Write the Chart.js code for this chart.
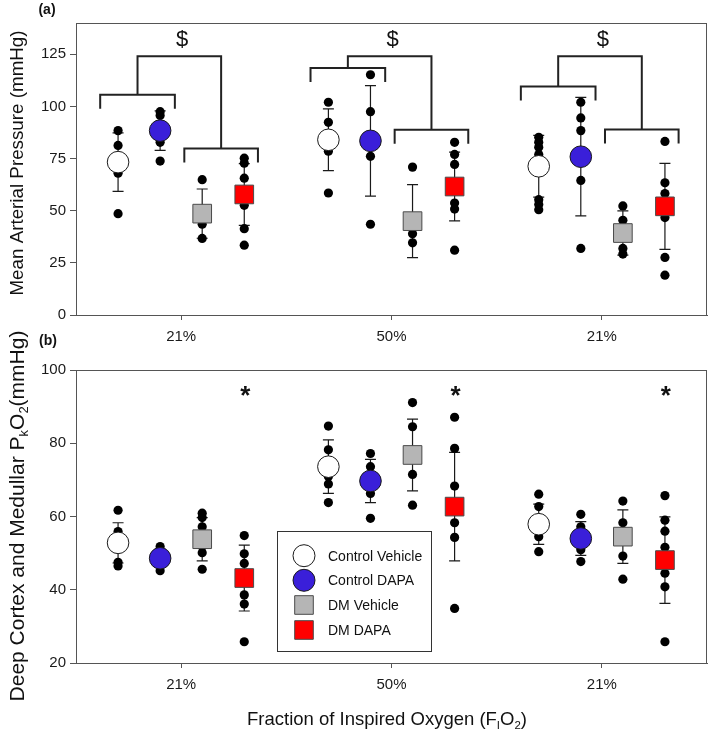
<!DOCTYPE html>
<html><head><meta charset="utf-8">
<script src="https://cdn.jsdelivr.net/npm/chart.js@4/dist/chart.umd.min.js"></script>
<style>
html,body{margin:0;padding:0;background:#fff;width:709px;height:730px;overflow:hidden;}
#wa{position:absolute;left:0;top:0;width:709px;height:345px;}
#wb{position:absolute;left:0;top:330px;width:709px;height:400px;}
</style></head><body>
<div id="wa"><canvas id="ca"></canvas></div>
<div id="wb"><canvas id="cb"></canvas></div>
<script>
// ---------- data ----------
const groups = ['21%', '50%', '21%'];
const seriesNames = ['Control Vehicle', 'Control DAPA', 'DM Vehicle', 'DM DAPA'];

// Panel (a) Mean Arterial Pressure (mmHg): means, error (SD), individual points per group
const mapMeanCV = [73.3, 84.0, 71.3];
const mapMeanCD = [88.4, 83.5, 75.9];
const mapMeanDV = [48.6, 45.0, 39.3];
const mapMeanDD = [57.8, 61.6, 52.1];
const mapErrCV = [14.0, 14.8, 14.8];
const mapErrCD = [9.5, 26.5, 28.4];
const mapErrDV = [11.8, 17.5, 10.6];
const mapErrDD = [14.8, 16.5, 20.6];
const mapDotsCV = [[88.4, 81.3, 74, 68, 48.6], [102, 92.4, 85, 78.5, 58.5], [85.2, 82.8, 80.4, 77, 55.3, 53, 50.5]];
const mapDotsCD = [[97.5, 95.6, 88, 82.8, 73.8], [115.2, 97.5, 84, 76.1, 43.5], [102, 94.5, 88.4, 64.5, 31.9]];
const mapDotsDV = [[64.9, 50, 43.5, 36.7], [70.9, 42, 39, 34.6], [52.3, 45.4, 40, 31.9, 29.2]];
const mapDotsDD = [[75.2, 72.8, 65.6, 52.6, 41.4, 33.5], [82.8, 77, 72.2, 53.7, 50.8, 31.1], [83.2, 63.4, 58.2, 46.7, 27.6, 19.1]];
const mapTicks = [0, 25, 50, 75, 100, 125];
// significance brackets ($): levels in mmHg per group
const bracketLeftLevel = [105.6, 118.4, 109.5];
const bracketRightLevel = [79.8, 88.8, 88.9];
const bracketTopLevel = [124.1, 124.0, 124.0];

// Panel (b) Deep Cortex and Medullar PkO2 (mmHg)
const pko2MeanCV = [52.8, 73.6, 57.9];
const pko2MeanCD = [48.6, 69.7, 54.0];
const pko2MeanDV = [53.8, 76.8, 54.5];
const pko2MeanDD = [43.2, 62.7, 48.1];
const pko2ErrCV = [5.5, 7.3, 5.5];
const pko2ErrCD = [2.5, 5.9, 4.6];
const pko2ErrDV = [5.9, 9.8, 7.3];
const pko2ErrDD = [9.0, 14.8, 11.8];
const pko2DotsCV = [[61.7, 55.9, 47.5, 46.5], [84.7, 78.2, 70.9, 68.9, 63.8], [66.1, 62.7, 54.5, 50.4]];
const pko2DotsCD = [[51.8, 48.6, 45.2], [77.2, 73.6, 66.3, 59.5], [60.6, 57.2, 50.9, 47.7]];
const pko2DotsDV = [[60.9, 59.7, 57.2, 51.9, 50.1, 45.6], [91.1, 84.5, 71.5, 63.1], [64.2, 58.3, 49.2, 42.9]];
const pko2DotsDD = [[54.8, 49.8, 47.2, 38.6, 36.1, 25.8], [87.1, 78.6, 68.3, 58.3, 54.3, 34.9], [65.7, 59, 56, 51.6, 44.5, 40.8, 25.8]];
const pko2Ticks = [20, 40, 60, 80, 100];
const pko2StarLevel = [94.3, 94.3, 94.3];

// ---------- styling ----------
const FAM = "'Liberation Sans', Arial, sans-serif";
const OFFS = [-0.3, -0.1, 0.1, 0.3];
const STY = [
  {style: 'circle', r: 10.8, bg: '#ffffff', bd: '#1a1a1a'},
  {style: 'circle', r: 10.8, bg: '#3a1fd9', bd: '#1a1a1a'},
  {style: 'rect', r: 13.2, bg: '#b5b5b5', bd: '#4a4a4a'},
  {style: 'rect', r: 13.2, bg: '#ff0000', bd: '#4a4a4a'}
];

function buildDatasets(means, dots) {
  const ds = [];
  means.forEach((m, s) => {
    ds.push({
      type: 'scatter', order: 0,
      data: m.map((v, g) => ({x: g + OFFS[s], y: v})),
      pointStyle: STY[s].style, pointRadius: STY[s].r, pointHoverRadius: STY[s].r,
      backgroundColor: STY[s].bg, borderColor: STY[s].bd, borderWidth: 1
    });
  });
  dots.forEach((d, s) => {
    const pts = [];
    d.forEach((arr, g) => arr.forEach(v => pts.push({x: g + OFFS[s], y: v})));
    ds.push({
      type: 'scatter', order: 1, data: pts,
      pointStyle: 'circle', pointRadius: 4.6, pointHoverRadius: 4.6,
      backgroundColor: '#000', borderColor: '#000', borderWidth: 0
    });
  });
  return ds;
}

function drawRich(ctx, parts, x, y, rot, fs, weight) {
  ctx.save(); ctx.translate(x, y); ctx.rotate(rot);
  const sfs = fs * 0.62; const w8 = weight || '';
  let w = 0;
  parts.forEach(p => { ctx.font = w8 + ' ' + (p.sub ? sfs : fs) + 'px ' + FAM; p.w = ctx.measureText(p.t).width; w += p.w; });
  let cx = -w / 2;
  ctx.textBaseline = 'middle'; ctx.textAlign = 'left'; ctx.fillStyle = '#111';
  parts.forEach(p => { ctx.font = w8 + ' ' + (p.sub ? sfs : fs) + 'px ' + FAM; ctx.fillText(p.t, cx, p.sub ? fs * 0.32 : 0); cx += p.w; });
  ctx.restore();
}

function errPlugin(means, errs) {
  return {
    id: 'errbars',
    beforeDatasetsDraw(chart) {
      const ctx = chart.ctx, xs = chart.scales.x, ys = chart.scales.y;
      ctx.save(); ctx.strokeStyle = '#1a1a1a'; ctx.lineWidth = 1.2;
      means.forEach((m, s) => m.forEach((v, g) => {
        const x = xs.getPixelForValue(g + OFFS[s]);
        const y1 = ys.getPixelForValue(v - errs[s][g]), y2 = ys.getPixelForValue(v + errs[s][g]);
        ctx.beginPath();
        ctx.moveTo(x, y1); ctx.lineTo(x, y2);
        ctx.moveTo(x - 5.5, y1); ctx.lineTo(x + 5.5, y1);
        ctx.moveTo(x - 5.5, y2); ctx.lineTo(x + 5.5, y2);
        ctx.stroke();
      }));
      ctx.restore();
    }
  };
}

const framePlugin = {
  id: 'frame',
  afterDraw(chart) {
    const a = chart.chartArea, ctx = chart.ctx;
    ctx.save(); ctx.strokeStyle = '#555'; ctx.lineWidth = 1;
    ctx.strokeRect(Math.round(a.left) + 0.5, Math.round(a.top) + 0.5, Math.round(a.right - a.left) - 1, Math.round(a.bottom - a.top));
    ctx.restore();
  }
};

function axes(ymin, ymax, yt, xh) {
  return {
    x: {
      type: 'linear', min: -0.5, max: 2.5,
      afterBuildTicks: s => { s.ticks = [0, 1, 2].map(v => ({value: v})); },
      ticks: {callback: v => groups[v] ?? '', font: {family: FAM, size: 15}, color: '#1a1a1a', padding: 8, maxRotation: 0, autoSkip: false},
      grid: {drawOnChartArea: false, tickLength: 5, color: '#555'},
      border: {color: '#555'},
      afterFit: s => { s.height = xh; s.paddingLeft = 0; s.paddingRight = 0; }
    },
    y: {
      min: ymin, max: ymax,
      afterBuildTicks: s => { s.ticks = yt.map(v => ({value: v})); },
      ticks: {font: {family: FAM, size: 15}, color: '#1a1a1a', padding: 4},
      grid: {drawOnChartArea: false, tickLength: 6, color: '#555'},
      border: {color: '#555'},
      afterFit: s => { s.width = 76; s.paddingTop = 0; s.paddingBottom = 0; }
    }
  };
}

const common = {
  responsive: true, maintainAspectRatio: false, animation: false, devicePixelRatio: 1,
  events: [],
  plugins: {legend: {display: false}, tooltip: {enabled: false}}
};

// ---------- panel (a) ----------
const meansA = [mapMeanCV, mapMeanCD, mapMeanDV, mapMeanDD];
const errsA = [mapErrCV, mapErrCD, mapErrDV, mapErrDD];
const dotsA = [mapDotsCV, mapDotsCD, mapDotsDV, mapDotsDD];
new Chart(document.getElementById('ca'), {
  type: 'scatter',
  data: {datasets: buildDatasets(meansA, dotsA)},
  options: Object.assign({}, common, {
    layout: {autoPadding: false, padding: {top: 23, right: 2, left: 0, bottom: 0}},
    scales: axes(0, 140, mapTicks, 30)
  }),
  plugins: [errPlugin(meansA, errsA), framePlugin, {
    id: 'annA',
    afterDraw(chart) {
      const ctx = chart.ctx, xs = chart.scales.x, ys = chart.scales.y;
      ctx.save();
      ctx.strokeStyle = '#222'; ctx.lineWidth = 2;
      const leg = 14;
      groups.forEach((_, g) => {
        const lx0 = xs.getPixelForValue(g - 0.385), lx1 = xs.getPixelForValue(g - 0.03);
        const rx0 = xs.getPixelForValue(g + 0.015), rx1 = xs.getPixelForValue(g + 0.365);
        const ly = ys.getPixelForValue(bracketLeftLevel[g]), ry = ys.getPixelForValue(bracketRightLevel[g]);
        const ty = ys.getPixelForValue(bracketTopLevel[g]);
        ctx.beginPath();
        ctx.moveTo(lx0, ly + leg); ctx.lineTo(lx0, ly); ctx.lineTo(lx1, ly); ctx.lineTo(lx1, ly + leg);
        ctx.moveTo(rx0, ry + leg); ctx.lineTo(rx0, ry); ctx.lineTo(rx1, ry); ctx.lineTo(rx1, ry + leg);
        const lm = (lx0 + lx1) / 2, rm = (rx0 + rx1) / 2;
        ctx.moveTo(lm, ly); ctx.lineTo(lm, ty); ctx.lineTo(rm, ty); ctx.lineTo(rm, ry);
        ctx.stroke();
        ctx.fillStyle = '#111'; ctx.font = '22px ' + FAM; ctx.textAlign = 'center'; ctx.textBaseline = 'middle';
        ctx.fillText('$', xs.getPixelForValue(g) + 1, ty - 16);
      });
      ctx.restore();
      drawRich(ctx, [{t: '(a)'}], 47, 10, 0, 14, 'bold');
      drawRich(ctx, [{t: 'Mean Arterial Pressure (mmHg)'}], 18, 163, -Math.PI / 2, 18.8);
    }
  }]
});

// ---------- panel (b) ----------
const meansB = [pko2MeanCV, pko2MeanCD, pko2MeanDV, pko2MeanDD];
const errsB = [pko2ErrCV, pko2ErrCD, pko2ErrDV, pko2ErrDD];
const dotsB = [pko2DotsCV, pko2DotsCD, pko2DotsDV, pko2DotsDD];
new Chart(document.getElementById('cb'), {
  type: 'scatter',
  data: {datasets: buildDatasets(meansB, dotsB)},
  options: Object.assign({}, common, {
    layout: {autoPadding: false, padding: {top: 40, right: 2, left: 0, bottom: 0}},
    scales: axes(20, 100, pko2Ticks, 67)
  }),
  plugins: [errPlugin(meansB, errsB), framePlugin, {
    id: 'annB',
    afterDraw(chart) {
      const ctx = chart.ctx, xs = chart.scales.x, ys = chart.scales.y;
      ctx.save();
      ctx.fillStyle = '#111'; ctx.font = 'bold 26px ' + FAM; ctx.textAlign = 'center'; ctx.textBaseline = 'middle';
      pko2StarLevel.forEach((v, g) => ctx.fillText('*', xs.getPixelForValue(g + OFFS[3]) + 1, ys.getPixelForValue(v) + 6));
      // legend
      ctx.strokeStyle = '#333'; ctx.lineWidth = 1;
      ctx.fillStyle = '#fff';
      ctx.fillRect(277.5, 201.5, 154, 120);
      ctx.strokeRect(277.5, 201.5, 154, 120);
      const rows = [225.7, 250.3, 275, 300];
      seriesNames.forEach((n, s) => {
        const st = STY[s], y = rows[s], x = 304;
        ctx.fillStyle = st.bg; ctx.strokeStyle = st.bd; ctx.lineWidth = 1;
        ctx.beginPath();
        if (st.style === 'circle') ctx.arc(x, y, 11, 0, Math.PI * 2);
        else ctx.rect(x - 9.3, y - 9.3, 18.6, 18.6);
        ctx.fill(); ctx.stroke();
        ctx.fillStyle = '#111'; ctx.font = '14px ' + FAM; ctx.textAlign = 'left'; ctx.textBaseline = 'middle';
        ctx.fillText(n, 328, y + 1);
      });
      ctx.restore();
      drawRich(ctx, [{t: '(b)'}], 48, 11, 0, 14, 'bold');
      drawRich(ctx, [{t: 'Deep Cortex and Medullar P'}, {t: 'k', sub: true}, {t: 'O'}, {t: '2', sub: true}, {t: '(mmHg)'}], 18, 186, -Math.PI / 2, 21);
      drawRich(ctx, [{t: 'Fraction of Inspired Oxygen (F'}, {t: 'I', sub: true}, {t: 'O'}, {t: '2', sub: true}, {t: ')'}], 387, 390, 0, 18.5);
    }
  }]
});
</script>
</body></html>
